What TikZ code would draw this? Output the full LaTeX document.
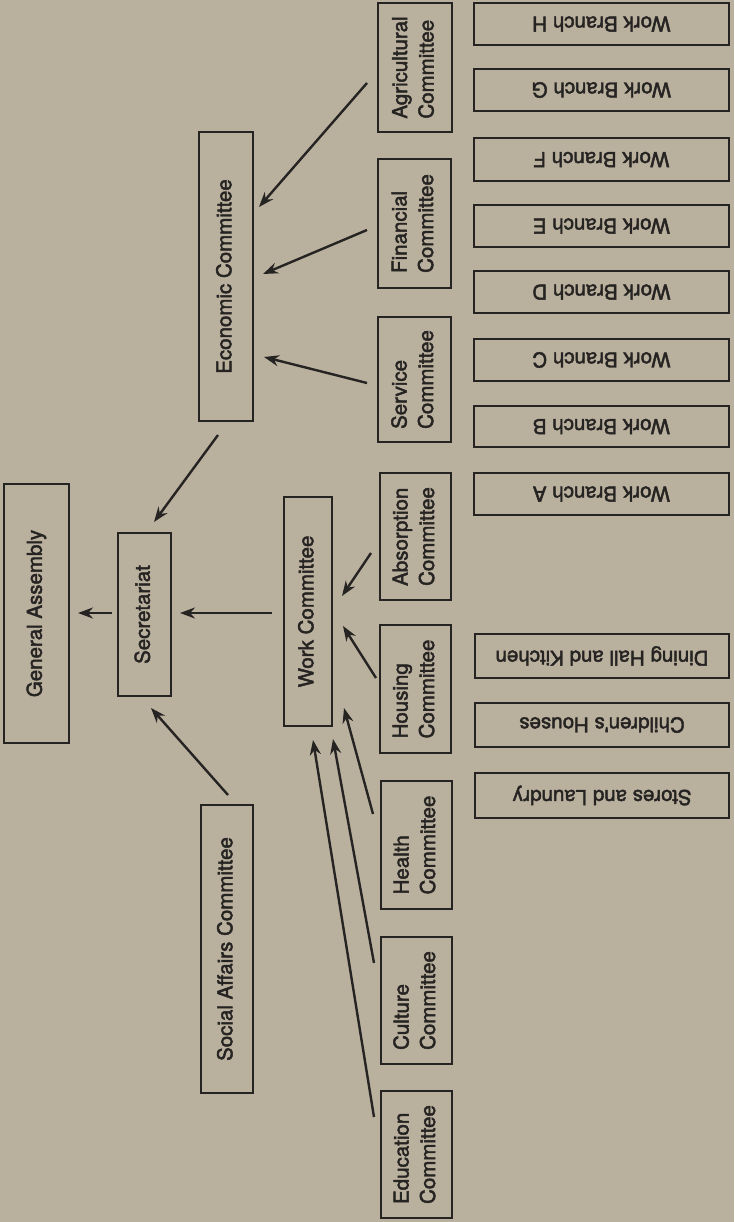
\documentclass[tikz,border=0pt]{standalone}
\usepackage{fontspec}
\newfontfamily\labelfont{TeX Gyre Heros}
\usetikzlibrary{arrows.meta}
\definecolor{bg}{RGB}{186,176,158}
\definecolor{ink}{RGB}{38,36,34}
\newcommand{\heavy}{\special{pdf:code 2 Tr 0.45 w}}
\newcommand{\vtext}[1]{\rotatebox{90}{\heavy\begin{tabular}{@{}l@{}}#1\end{tabular}}}
\newcommand{\utext}[1]{\rotatebox{180}{\heavy#1}}
\begin{document}
\begin{tikzpicture}[x=1pt,y=-1pt,
  box/.style={draw=ink, line width=2pt, inner sep=0pt, text=ink, font=\labelfont\fontsize{20.5}{26.5}\selectfont},
  arr/.style={draw=ink, line width=2.4pt, -{Stealth[length=15pt,width=11pt]}}]
\fill[bg] (0,0) rectangle (734,1222);
\useasboundingbox (0,0) rectangle (734,1222);
% left part
\node[box, minimum width=65pt, minimum height=259pt] (ga) at (36.5,613.5) {\vtext{General Assembly}};
\node[box, minimum width=53pt, minimum height=163pt] (sec) at (144.5,614.5) {\vtext{Secretariat}};
\node[box, minimum width=48pt, minimum height=229pt] (work) at (308,611.5) {\vtext{Work Committee}};
\node[box, minimum width=54pt, minimum height=289pt] (econ) at (226,276.5) {\vtext{Economic Committee}};
\node[box, minimum width=52pt, minimum height=288pt] (social) at (227,949) {\vtext{Social Affairs Committee}};
\node[box, minimum width=74pt, minimum height=129pt] (agri) at (415,67.5) {\vtext{Agricultural\\Committee}};
\node[box, minimum width=73pt, minimum height=129pt] (fin) at (414.5,223.5) {\vtext{Financial\\Committee}};
\node[box, minimum width=73pt, minimum height=125pt] (serv) at (414.5,379.5) {\vtext{Service\\Committee}};
\node[box, minimum width=71pt, minimum height=127pt] (abs) at (415.5,536.5) {\vtext{Absorption\\Committee}};
\node[box, minimum width=71pt, minimum height=128pt] (hous) at (415.5,689) {\vtext{Housing\\Committee}};
\node[box, minimum width=71pt, minimum height=128pt] (health) at (416.5,845) {\vtext{Health\\Committee}};
\node[box, minimum width=71pt, minimum height=127pt] (cult) at (416.5,1000.5) {\vtext{Culture\\Committee}};
\node[box, minimum width=71pt, minimum height=127pt] (edu) at (416.5,1154.5) {\vtext{Education\\Committee}};
% right column
\node[box, minimum width=255pt, minimum height=42pt] (wbh) at (601.5,24) {\utext{Work Branch H}};
\node[box, minimum width=255pt, minimum height=42pt] (wbg) at (601.5,90) {\utext{Work Branch G}};
\node[box, minimum width=255pt, minimum height=43pt] (wbf) at (601.5,159.5) {\utext{Work Branch F}};
\node[box, minimum width=255pt, minimum height=42pt] (wbe) at (601.5,226) {\utext{Work Branch E}};
\node[box, minimum width=255pt, minimum height=42pt] (wbd) at (601.5,292) {\utext{Work Branch D}};
\node[box, minimum width=255pt, minimum height=42pt] (wbc) at (601.5,360) {\utext{Work Branch C}};
\node[box, minimum width=255pt, minimum height=41pt] (wbb) at (601.5,426.5) {\utext{Work Branch B}};
\node[box, minimum width=255pt, minimum height=42pt] (wba) at (601.5,494) {\utext{Work Branch A}};
\node[box, minimum width=254pt, minimum height=44pt] (dine) at (602,656) {\utext{Dining Hall and Kitchen}};
\node[box, minimum width=254pt, minimum height=44pt] (child) at (602,725) {\utext{Children's Houses}};
\node[box, minimum width=254pt, minimum height=45pt] (store) at (602,795.5) {\utext{Stores and Laundry}};
% connectors
\draw[arr] ([shift={(-5,-1.5)}]sec.west) -- ([shift={(8,-0.5)}]ga.east);
\draw[arr] ([shift={(-11,1.5)}]work.west) -- ([shift={(8,-1.5)}]sec.east);
\draw[arr] ([shift={(-8,13)}]econ.south) -- ([shift={(9.5,-10)}]sec.north);
\draw[arr] ([shift={(1,-9)}]social.north) -- ([shift={(6.5,11)}]sec.south);
\draw[arr] ([shift={(-10,3.5)}]serv.west) -- ([shift={(10,-65)}]econ.south east);
\draw[arr] ([shift={(-10,6.5)}]fin.west) -- ([shift={(9,-2.5)}]econ.east);
\draw[arr] ([shift={(-10,15.5)}]agri.west) -- ([shift={(5,76)}]econ.north east);
\draw[arr] ([shift={(-8,16.5)}]abs.west) -- ([shift={(9,-15.5)}]work.east);
\draw[arr] ([shift={(-3,-11)}]hous.west) -- ([shift={(10,14.5)}]work.east);
\draw[arr] ([shift={(-7,34)}]health.north west) -- ([shift={(11,-19)}]work.south east);
\draw[arr] ([shift={(-6,-37.5)}]cult.west) -- ([shift={(0,12)}]work.south east);
\draw[arr] ([shift={(-6,-37.5)}]edu.west) -- ([shift={(5,13)}]work.south);
\end{tikzpicture}
\end{document}
